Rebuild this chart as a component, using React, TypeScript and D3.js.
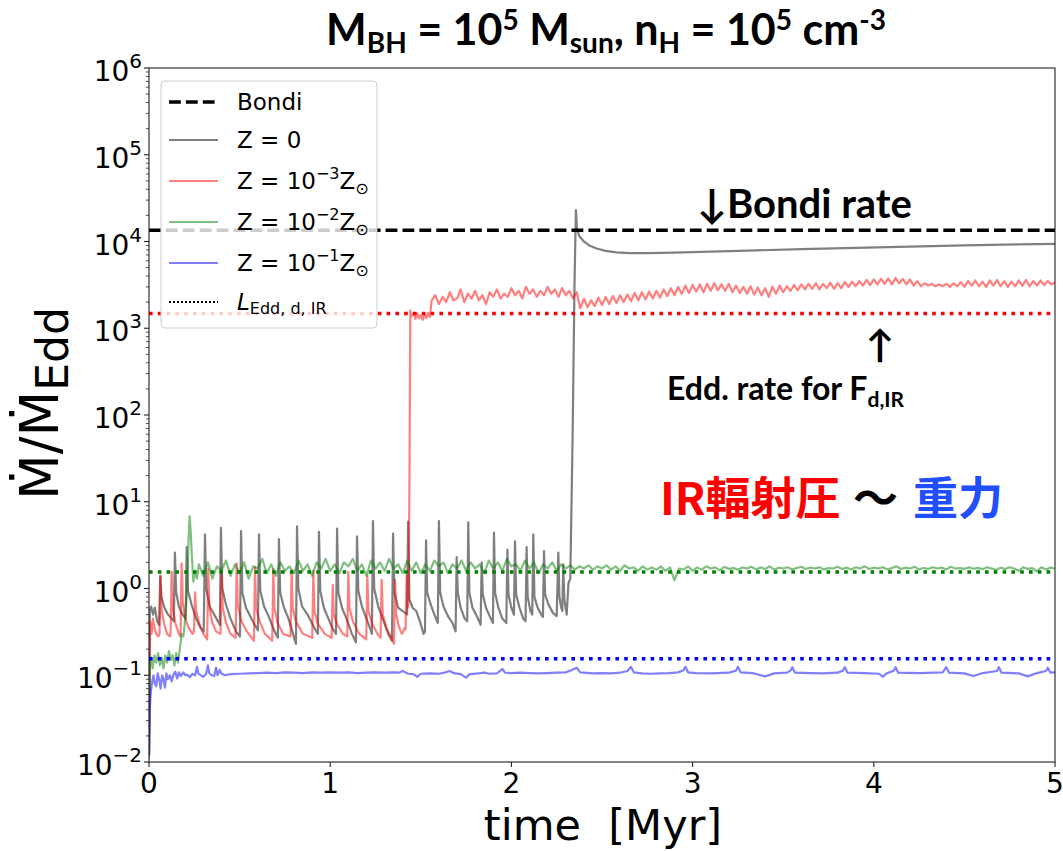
import React from 'react';
import * as d3 from 'd3';

const W = 1063;
const H = 851;
const PLOT = { left: 149, right: 1055, top: 68, bottom: 762 };

const xTickValues = [0, 1, 2, 3, 4, 5];
const yTickExponents = [-2, -1, 0, 1, 2, 3, 4, 5, 6];

// horizontal reference levels
const bondiRate = 1.35e4;
const eddIRLevels = [
  { value: 1.48e3, color: '#ff0000' },
  { value: 1.55, color: '#008000' },
  { value: 0.155, color: '#0000ff' },
];

// Z = 0 (gray)
const z0Points: [number, number][] = [
  [0.0, 0.012], [0.004, 0.55], [0.012, 0.62], [0.022, 0.5], [0.032, 0.6], [0.045, 0.42], [0.056, 0.38],
  [0.062, 1.4], [0.068, 0.8], [0.085, 0.6], [0.105, 0.5], [0.125, 0.45], [0.137, 0.42],
  [0.143, 2.6], [0.15, 0.9], [0.165, 0.62], [0.185, 0.5], [0.202, 0.45],
  [0.208, 3.0], [0.215, 0.95], [0.235, 0.65], [0.26, 0.45], [0.285, 0.35], [0.302, 0.32],
  [0.309, 4.2], [0.316, 1.0], [0.335, 0.62], [0.36, 0.5], [0.38, 0.42], [0.391, 0.38],
  [0.397, 5.0], [0.404, 1.0], [0.425, 0.65], [0.45, 0.45], [0.48, 0.32], [0.502, 0.28],
  [0.508, 4.6], [0.515, 0.9], [0.535, 0.6], [0.565, 0.45], [0.59, 0.36], [0.601, 0.33],
  [0.607, 4.2], [0.614, 0.95], [0.635, 0.62], [0.66, 0.48], [0.69, 0.33], [0.711, 0.27],
  [0.717, 3.7], [0.724, 0.9], [0.745, 0.6], [0.77, 0.45], [0.795, 0.3], [0.811, 0.23],
  [0.817, 5.2], [0.824, 1.0], [0.845, 0.62], [0.875, 0.5], [0.91, 0.36], [0.932, 0.3],
  [0.938, 4.5], [0.945, 0.95], [0.965, 0.6], [0.99, 0.45], [1.015, 0.34], [1.032, 0.3],
  [1.038, 4.9], [1.045, 0.9], [1.065, 0.6], [1.09, 0.45], [1.12, 0.3], [1.142, 0.24],
  [1.148, 4.0], [1.155, 0.95], [1.175, 0.62], [1.2, 0.45], [1.222, 0.34], [1.23, 0.3],
  [1.236, 6.0], [1.243, 1.0], [1.265, 0.62], [1.29, 0.45], [1.32, 0.3], [1.341, 0.25],
  [1.347, 4.3], [1.354, 0.9], [1.375, 0.6], [1.4, 0.55], [1.424, 0.5],
  [1.43, 5.9], [1.437, 0.75], [1.455, 0.6], [1.475, 0.55], [1.495, 0.42], [1.515, 0.3], [1.523, 0.32],
  [1.529, 3.6], [1.535, 0.9], [1.555, 0.65], [1.575, 0.5], [1.594, 0.4],
  [1.6, 6.0], [1.607, 0.9], [1.625, 0.62], [1.65, 0.48], [1.675, 0.4], [1.692, 0.32],
  [1.698, 2.3], [1.704, 0.9], [1.72, 0.6], [1.742, 0.45], [1.756, 0.42],
  [1.762, 5.8], [1.768, 0.9], [1.785, 0.6], [1.805, 0.5], [1.822, 0.42], [1.83, 0.38],
  [1.836, 2.0], [1.842, 0.85], [1.86, 0.6], [1.88, 0.48], [1.898, 0.4],
  [1.904, 4.4], [1.91, 0.9], [1.928, 0.6], [1.95, 0.45], [1.972, 0.4],
  [1.978, 2.8], [1.984, 0.85], [2.0, 0.6], [2.014, 0.5],
  [2.02, 3.5], [2.026, 0.85], [2.045, 0.6], [2.065, 0.45], [2.078, 0.42],
  [2.084, 3.0], [2.09, 0.8], [2.105, 0.55], [2.115, 0.5],
  [2.121, 4.2], [2.127, 0.8], [2.145, 0.6], [2.165, 0.5], [2.174, 0.47],
  [2.18, 2.7], [2.186, 0.85], [2.205, 0.65], [2.23, 0.52], [2.25, 0.48],
  [2.259, 2.6], [2.265, 0.8], [2.275, 0.6], [2.281, 0.55],
  [2.286, 1.9], [2.292, 0.75], [2.305, 0.5], [2.315, 1.15], [2.325, 1.3],
  [2.338, 60], [2.348, 3000], [2.356, 23000], [2.362, 14000], [2.375, 11500], [2.4, 10000],
  [2.43, 9000], [2.47, 8300], [2.52, 7800], [2.58, 7500], [2.65, 7350], [2.75, 7350],
  [2.9, 7450], [3.1, 7650], [3.3, 7850], [3.6, 8150], [3.9, 8450], [4.2, 8750],
  [4.5, 9000], [4.8, 9250], [5.0, 9400],
];

// Z = 1e-3 Zsun (red): explicit head, then samples every 0.02 Myr from 1.58 Myr
const z3Head: [number, number][] = [
  [0.0, 0.012], [0.006, 0.42], [0.014, 0.3], [0.022, 0.45], [0.03, 0.35], [0.04, 0.3], [0.052, 0.28], [0.058, 0.3],
  [0.064, 1.37], [0.07, 0.55], [0.085, 0.38], [0.1, 0.3], [0.115, 0.28], [0.119, 0.3],
  [0.125, 1.56], [0.131, 0.6], [0.145, 0.4], [0.165, 0.3], [0.174, 0.28],
  [0.18, 1.95], [0.186, 0.7], [0.2, 0.45], [0.22, 0.35], [0.24, 0.3], [0.248, 0.32],
  [0.254, 0.9], [0.26, 0.55], [0.28, 0.38], [0.3, 0.3], [0.321, 0.26],
  [0.327, 1.67], [0.333, 0.6], [0.35, 0.4], [0.37, 0.32], [0.395, 0.3],
  [0.401, 1.56], [0.407, 0.6], [0.425, 0.4], [0.45, 0.3], [0.478, 0.27],
  [0.484, 1.95], [0.49, 0.65], [0.51, 0.42], [0.54, 0.32], [0.579, 0.25],
  [0.585, 1.76], [0.591, 0.6], [0.61, 0.42], [0.64, 0.3], [0.68, 0.25],
  [0.686, 1.67], [0.692, 0.6], [0.71, 0.4], [0.74, 0.3], [0.781, 0.28],
  [0.787, 1.6], [0.793, 0.6], [0.81, 0.42], [0.85, 0.3], [0.901, 0.27],
  [0.907, 1.6], [0.913, 0.55], [0.93, 0.4], [0.97, 0.3], [1.008, 0.27],
  [1.014, 1.1], [1.02, 0.5], [1.04, 0.38], [1.07, 0.3], [1.094, 0.28],
  [1.1, 1.56], [1.106, 0.6], [1.125, 0.42], [1.16, 0.3], [1.199, 0.26],
  [1.205, 1.4], [1.211, 0.55], [1.23, 0.4], [1.26, 0.3], [1.278, 0.27],
  [1.284, 1.26], [1.29, 0.5], [1.31, 0.35], [1.335, 0.28], [1.352, 0.23],
  [1.358, 1.26], [1.364, 0.5], [1.38, 0.36], [1.395, 0.3], [1.404, 0.32], [1.41, 0.35], [1.416, 0.34],
  [1.422, 1.42], [1.428, 0.6], [1.433, 0.7], [1.438, 30], [1.442, 1600], [1.447, 1350],
  [1.46, 1500], [1.47, 1280], [1.48, 1480], [1.49, 1300], [1.5, 1420], [1.51, 1250],
  [1.52, 1450], [1.53, 1300], [1.54, 1500], [1.55, 1350], [1.56, 2100],
];
const z3SampleStart = 1.58;
const z3SampleStep = 0.02;
const z3Samples = [
  2400, 1900, 2300, 2000, 2600, 2100, 2200, 2800, 2000, 2500,
  2200, 2700, 2100, 2400, 1900, 2600, 2300, 2800, 2200, 2500,
  2300, 2900, 2400, 2700, 2200, 3000, 2500, 2800, 2300, 2700,
  2400, 3000, 2500, 2800, 2300, 2900, 2400, 2700, 2200, 2600,
  1700, 2200, 1750, 2100, 1800, 2250, 1850, 2300, 1900, 2350,
  1950, 2400, 2000, 2450, 2050, 2550, 2100, 2600, 2150, 2650,
  2200, 2700, 2250, 2800, 2350, 2900, 2400, 3000, 2500, 3100,
  2550, 3150, 2650, 3200, 2600, 3250, 2700, 3300, 2750, 3200,
  2700, 3250, 2600, 3100, 2550, 3000, 2500, 3050, 2450, 2950,
  2400, 2900, 2300, 3000, 2500, 3100, 2600, 3050, 2700, 3150,
  2750, 3200, 2800, 3250, 2850, 3300, 2800, 3250, 2900, 3350,
  2850, 3300, 2900, 3400, 3000, 3450, 3050, 3500, 3100, 3600,
  3150, 3650, 3200, 3700, 3250, 3750, 3200, 3800, 3300, 3700,
  3200, 3650, 3100, 3500, 3050, 3300, 3100, 3250, 3050, 3200,
  3050, 3250, 3000, 3300, 3050, 3400, 3000, 3500, 3100, 3550,
  3050, 3450, 3000, 3550, 3100, 3600, 3050, 3500, 3000, 3450,
  3050, 3550, 3100, 3600, 3050, 3500, 3100, 3550, 3150, 3500,
  3200, 3400,
];

// Z = 1e-2 Zsun (green): explicit head, then samples every 0.025 Myr from 0.275 Myr
const z2Head: [number, number][] = [
  [0.0, 0.012], [0.005, 0.13], [0.012, 0.16], [0.02, 0.12], [0.03, 0.17], [0.04, 0.14], [0.05, 0.18],
  [0.06, 0.13], [0.07, 0.16], [0.08, 0.12], [0.09, 0.17], [0.1, 0.14], [0.11, 0.19], [0.12, 0.15],
  [0.13, 0.17], [0.14, 0.13], [0.15, 0.18], [0.16, 0.14], [0.17, 0.2], [0.18, 0.3], [0.19, 0.28],
  [0.2, 0.45], [0.21, 0.9], [0.218, 3.5], [0.224, 6.8], [0.23, 4.5], [0.236, 2.5], [0.245, 1.2],
  [0.255, 1.6], [0.265, 1.3],
];
const z2SampleStart = 0.275;
const z2SampleStep = 0.025;
const z2Samples = [
  1.9, 1.4, 2.0, 1.3, 1.8, 1.6, 2.1, 1.4, 1.9, 1.5,
  2.0, 1.3, 1.8, 1.7, 2.2, 1.5, 1.9, 1.4, 2.0, 1.6,
  1.8, 1.5, 2.1, 1.6, 1.9, 1.4, 2.0, 1.7, 2.2, 1.6,
  1.9, 1.5, 2.0, 1.8, 2.2, 1.6, 1.9, 1.4, 2.1, 1.7,
  2.0, 1.6, 2.2, 1.7, 1.9, 1.5, 2.1, 1.6, 2.0, 1.5,
  1.9, 1.6, 2.1, 1.8, 2.0, 1.5, 1.9, 1.7, 2.1, 1.6,
  2.0, 1.7, 1.9, 1.5, 2.1, 1.7, 2.0, 1.6, 2.2, 1.8,
  1.9, 1.6, 2.1, 1.7, 2.0, 1.5, 1.9, 1.7, 2.0, 1.6,
  1.9, 1.7, 1.85, 1.65, 1.8, 1.7, 1.85, 1.65, 1.8, 1.7,
  1.85, 1.65, 1.8, 1.6, 1.85, 1.7, 1.75, 1.6, 1.8, 1.65,
  1.75, 1.65, 1.8, 1.6, 1.75, 1.25, 1.7, 1.65, 1.8, 1.6,
  1.75, 1.65, 1.8, 1.7, 1.75, 1.62, 1.78, 1.68, 1.72, 1.65,
  1.75, 1.7, 1.78, 1.66, 1.75, 1.68, 1.8, 1.65, 1.74, 1.7,
  1.76, 1.66, 1.72, 1.78, 1.68, 1.74, 1.7, 1.76, 1.66, 1.72,
  1.7, 1.78, 1.68, 1.74, 1.66, 1.76, 1.7, 1.8, 1.68, 1.74,
  1.7, 1.76, 1.66, 1.72, 1.8, 1.68, 1.74, 1.7, 1.78, 1.66,
  1.72, 1.68, 1.76, 1.7, 1.74, 1.66, 1.78, 1.7, 1.72, 1.68,
  1.75, 1.69, 1.73, 1.67, 1.76, 1.7, 1.64, 1.74, 1.68, 1.76,
  1.7, 1.6, 1.75, 1.68, 1.72, 1.58, 1.76, 1.66, 1.74, 1.7,
];

// Z = 1e-1 Zsun (blue)
const z1Points: [number, number][] = [
  [0.0, 0.011], [0.004, 0.04], [0.01, 0.065], [0.018, 0.085], [0.025, 0.1], [0.032, 0.08], [0.04, 0.075],
  [0.048, 0.105], [0.056, 0.09], [0.064, 0.07], [0.072, 0.1], [0.08, 0.09], [0.088, 0.072], [0.096, 0.105],
  [0.104, 0.09], [0.115, 0.1], [0.125, 0.085], [0.135, 0.102], [0.145, 0.11], [0.155, 0.092], [0.165, 0.108],
  [0.175, 0.098], [0.19, 0.108], [0.2, 0.1], [0.21, 0.102], [0.225, 0.095], [0.24, 0.104], [0.255, 0.1],
  [0.265, 0.125], [0.272, 0.105], [0.285, 0.1], [0.3, 0.096], [0.315, 0.103], [0.325, 0.13], [0.332, 0.106],
  [0.345, 0.1], [0.36, 0.098], [0.37, 0.122], [0.378, 0.1], [0.39, 0.115], [0.4, 0.104], [0.42, 0.1],
  [0.45, 0.103], [0.5, 0.104], [0.55, 0.105], [0.6, 0.106], [0.65, 0.107], [0.7, 0.106], [0.75, 0.108],
  [0.8, 0.107], [0.85, 0.106], [0.9, 0.108], [0.95, 0.107], [1.0, 0.108], [1.05, 0.107], [1.1, 0.108],
  [1.15, 0.106], [1.2, 0.107], [1.25, 0.108], [1.3, 0.107], [1.35, 0.108], [1.38, 0.107], [1.4, 0.112],
  [1.43, 0.104], [1.46, 0.103], [1.48, 0.096], [1.5, 0.104], [1.55, 0.105], [1.6, 0.104], [1.63, 0.107],
  [1.66, 0.112], [1.68, 0.106], [1.72, 0.103], [1.75, 0.094], [1.77, 0.103], [1.82, 0.105], [1.85, 0.107],
  [1.88, 0.104], [1.92, 0.105], [1.95, 0.118], [1.965, 0.107], [2.0, 0.106], [2.05, 0.107], [2.1, 0.106],
  [2.15, 0.105], [2.2, 0.106], [2.25, 0.107], [2.3, 0.108], [2.33, 0.114], [2.36, 0.122], [2.38, 0.108],
  [2.45, 0.105], [2.5, 0.106], [2.55, 0.105], [2.6, 0.107], [2.64, 0.112], [2.66, 0.125], [2.675, 0.108],
  [2.72, 0.105], [2.77, 0.104], [2.82, 0.105], [2.87, 0.106], [2.92, 0.108], [2.95, 0.114], [2.96, 0.125],
  [2.975, 0.108], [3.02, 0.106], [3.1, 0.105], [3.2, 0.107], [3.24, 0.113], [3.25, 0.125], [3.265, 0.108],
  [3.33, 0.106], [3.4, 0.097], [3.45, 0.105], [3.52, 0.107], [3.54, 0.113], [3.55, 0.124], [3.565, 0.107],
  [3.65, 0.106], [3.72, 0.105], [3.8, 0.107], [3.83, 0.113], [3.84, 0.124], [3.855, 0.107], [3.95, 0.106],
  [4.03, 0.104], [4.05, 0.096], [4.07, 0.105], [4.11, 0.113], [4.12, 0.124], [4.135, 0.107], [4.25, 0.106],
  [4.38, 0.108], [4.4, 0.124], [4.415, 0.107], [4.5, 0.105], [4.55, 0.098], [4.6, 0.106], [4.68, 0.112],
  [4.69, 0.124], [4.705, 0.107], [4.8, 0.105], [4.85, 0.097], [4.9, 0.106], [4.95, 0.112], [4.96, 0.122],
  [4.975, 0.107], [5.0, 0.108],
];

const legendLabels = ['Bondi', 'Z = 0', 'Z = 10', 'Z = 10', 'Z = 10', 'L'];

function sampled(start: number, step: number, values: number[]): [number, number][] {
  return values.map((v, i) => [+(start + i * step).toFixed(4), v]);
}

export default function App() {
  const x = d3.scaleLinear().domain([0, 5]).range([PLOT.left, PLOT.right]);
  const y = d3.scaleLog().domain([1e-2, 1e6]).range([PLOT.bottom, PLOT.top]);
  const line = d3.line<[number, number]>().x((d) => x(d[0])).y((d) => y(d[1]));

  const z3Data = z3Head.concat(sampled(z3SampleStart, z3SampleStep, z3Samples));
  const z2Data = z2Head.concat(sampled(z2SampleStart, z2SampleStep, z2Samples));

  const series = [
    { data: z0Points, color: '#000000' },
    { data: z3Data, color: '#ff0000' },
    { data: z2Data, color: '#008000' },
    { data: z1Points, color: '#0000ff' },
  ];

  const minorTicks: number[] = [];
  for (let e = -2; e < 6; e++) {
    for (let k = 2; k <= 9; k++) minorTicks.push(k * Math.pow(10, e));
  }

  const dejavu = 'DejaVu Sans, sans-serif';
  const calib = 'Lato, "Open Sans", sans-serif';
  const cjk = '"Noto Sans CJK JP", sans-serif';

  const legendX = 161;
  const legendY = 81;
  const rowY = [102, 140, 181, 222, 263, 302];
  const hx0 = 169;
  const hx1 = 218;
  const tx = 237;
  const lfs = 23;

  return (
    <svg width={W} height={H} style={{ position: 'absolute', left: 0, top: 0, display: 'block', background: '#fff' }}>
      <rect x={0} y={0} width={W} height={H} fill="#fff" />
      <defs>
        <clipPath id="plotclip">
          <rect x={PLOT.left} y={PLOT.top} width={PLOT.right - PLOT.left} height={PLOT.bottom - PLOT.top} />
        </clipPath>
      </defs>

      {/* Title */}
      <text x={606} y={45} textAnchor="middle" fontFamily={calib} fontWeight={700} fontSize={43} fill="#000">
        M<tspan fontSize={28} dy={8}>BH</tspan>
        <tspan dy={-8}> = 10</tspan>
        <tspan fontSize={28} dy={-15}>5</tspan>
        <tspan dy={15}> M</tspan>
        <tspan fontSize={28} dy={8}>sun</tspan>
        <tspan dy={-8}>, n</tspan>
        <tspan fontSize={28} dy={8}>H</tspan>
        <tspan dy={-8}> = 10</tspan>
        <tspan fontSize={28} dy={-15}>5</tspan>
        <tspan dy={15}> cm</tspan>
        <tspan fontSize={28} dy={-15}>-3</tspan>
      </text>

      {/* data lines */}
      <g clipPath="url(#plotclip)">
        <line x1={x(0)} x2={x(5)} y1={y(bondiRate)} y2={y(bondiRate)} stroke="#000" strokeWidth={3.4} strokeDasharray="11.8 5.1" />
        {series.map((s, i) => (
          <path key={i} d={line(s.data) || ''} fill="none" stroke={s.color} strokeOpacity={0.5} strokeWidth={2.2} strokeLinejoin="round" />
        ))}
        {eddIRLevels.map((l, i) => (
          <line key={i} x1={x(0)} x2={x(5)} y1={y(l.value)} y2={y(l.value)} stroke={l.color} strokeWidth={3.6} strokeDasharray="3.6 5.2" />
        ))}
      </g>

      {/* axes frame */}
      <rect x={PLOT.left} y={PLOT.top} width={PLOT.right - PLOT.left} height={PLOT.bottom - PLOT.top} fill="none" stroke="#222" strokeWidth={1.1} />

      {/* y ticks */}
      {yTickExponents.map((e) => {
        const yy = y(Math.pow(10, e));
        return (
          <g key={e}>
            <line x1={PLOT.left - 5} x2={PLOT.left} y1={yy} y2={yy} stroke="#222" strokeWidth={1.1} />
            <text x={PLOT.left - 7} y={yy + 13} textAnchor="end" fontFamily={dejavu} fontSize={28} fill="#000">
              10<tspan fontSize={20} dy={-13}>{e < 0 ? '\u2212' + Math.abs(e) : String(e)}</tspan>
            </text>
          </g>
        );
      })}
      {minorTicks.map((v, i) => (
        <line key={i} x1={PLOT.left - 3} x2={PLOT.left} y1={y(v)} y2={y(v)} stroke="#222" strokeWidth={0.8} />
      ))}

      {/* x ticks */}
      {xTickValues.map((t) => (
        <g key={t}>
          <line x1={x(t)} x2={x(t)} y1={PLOT.bottom} y2={PLOT.bottom + 5} stroke="#222" strokeWidth={1.1} />
          <text x={x(t)} y={PLOT.bottom + 31} textAnchor="middle" fontFamily={dejavu} fontSize={28} fill="#000">
            {t}
          </text>
        </g>
      ))}

      {/* axis labels */}
      <text x={603} y={840} textAnchor="middle" fontFamily={dejavu} fontSize={43} fill="#000" xmlSpace="preserve">
        time  [Myr]
      </text>
      <text transform="translate(58,500) rotate(-90)" textAnchor="start" fontFamily={dejavu} fontSize={53} fill="#000">
        Ṁ/Ṁ<tspan fontSize={44} dy={10}>Edd</tspan>
      </text>

      {/* legend */}
      <rect x={legendX} y={legendY} width={216} height={247} rx={4} fill="#fff" fillOpacity={0.8} stroke="#cccccc" strokeWidth={1} />
      <line x1={hx0} x2={hx1} y1={rowY[0]} y2={rowY[0]} stroke="#000" strokeWidth={3.4} strokeDasharray="11.8 5.1" />
      <line x1={hx0} x2={hx1} y1={rowY[1]} y2={rowY[1]} stroke="#000" strokeOpacity={0.5} strokeWidth={2.2} />
      <line x1={hx0} x2={hx1} y1={rowY[2]} y2={rowY[2]} stroke="#ff0000" strokeOpacity={0.5} strokeWidth={2.2} />
      <line x1={hx0} x2={hx1} y1={rowY[3]} y2={rowY[3]} stroke="#008000" strokeOpacity={0.5} strokeWidth={2.2} />
      <line x1={hx0} x2={hx1} y1={rowY[4]} y2={rowY[4]} stroke="#0000ff" strokeOpacity={0.5} strokeWidth={2.2} />
      <line x1={hx0} x2={hx1} y1={rowY[5]} y2={rowY[5]} stroke="#000" strokeWidth={2} strokeDasharray="2 2" />

      <text x={tx} y={rowY[0] + 8} fontFamily={dejavu} fontSize={lfs}>{legendLabels[0]}</text>
      <text x={tx} y={rowY[1] + 8} fontFamily={dejavu} fontSize={lfs}>{legendLabels[1]}</text>
      {[2, 3, 4].map((r, i) => (
        <text key={r} x={tx} y={rowY[r] + 8} fontFamily={dejavu} fontSize={lfs}>
          {legendLabels[r]}
          <tspan fontSize={16} dy={-10}>{'\u2212' + (3 - i)}</tspan>
          <tspan dy={10}>Z</tspan>
          <tspan fontSize={16} dy={5}>⊙</tspan>
        </text>
      ))}
      <text x={tx} y={rowY[5] + 8} fontFamily={dejavu} fontSize={lfs}>
        <tspan fontStyle="italic">{legendLabels[5]}</tspan>
        <tspan fontSize={16} dy={4}>Edd, d, IR</tspan>
      </text>

      {/* annotations */}
      <text x={697} y={218} fontFamily={calib} fontWeight={700} fontSize={40} fill="#000">
        ↓Bondi rate
      </text>
      <text x={880} y={358} textAnchor="middle" fontFamily={calib} fontWeight={700} fontSize={38} fill="#000">
        ↑
      </text>
      <text x={667} y={400} fontFamily={calib} fontWeight={700} fontSize={32} fill="#000">
        Edd. rate for F<tspan fontSize={21} dy={7}>d,IR</tspan>
      </text>
      <text x={660} y={515} fontFamily={cjk} fontWeight={700} fontSize={45} fill="#ff0000">
        IR輻射圧
      </text>
      <text x={853} y={515} fontFamily={cjk} fontWeight={700} fontSize={45} fill="#000">
        〜
      </text>
      <text x={913} y={515} fontFamily={cjk} fontWeight={700} fontSize={45} fill="#1f4fff">
        重力
      </text>
    </svg>
  );
}
